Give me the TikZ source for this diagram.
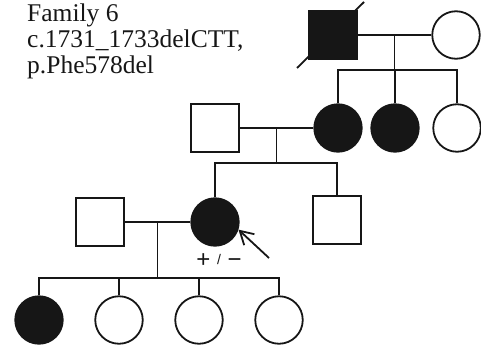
\documentclass[tikz,border=0pt]{standalone}
\usepackage{fontspec}
\setmainfont{Liberation Serif}
\newfontfamily\labelfont{Liberation Sans}
\usetikzlibrary{positioning,calc,arrows.meta}
\definecolor{ink}{HTML}{161616}
\begin{document}
\begin{tikzpicture}[x=1pt,y=-1pt,node distance=80pt,
male/.style={
rectangle,
draw=ink,
line width=1.8pt,
minimum size=47.5pt,
inner sep=0pt
},
female/.style={
circle,
draw=ink,
line width=1.8pt,
minimum size=47.5pt,
inner sep=0pt
},
aff/.style={fill=ink},
line/.style={draw=ink,line width=1.8pt},
]
\useasboundingbox (0,0) rectangle (481,345);
\node (fam) [anchor=north west,align=left,inner sep=0pt,text=ink,font=\fontsize{25.5}{26}\selectfont] at (27,4) {Family 6\\c.1731\_1733delCTT,\\p.Phe578del};
\node (gf) [male,aff] at (333,35) {};
\node (gm) [female] at (456,35) {};
\node (d1) [female,aff] at (338,128) {};
\node (d2) [female,aff] at (395,128) {};
\node (d3) [female] at (457,128) {};
\node (h1) [male] at (215,128) {};
\node (p) [female,aff] at (215,222) {};
\node (s) [male] at (337,220) {};
\node (h2) [male] at (100,222) {};
\node (g1) [female,aff] at (39,320) {};
\node (g2) [female,right of=g1] {};
\node (g3) [female,right of=g2] {};
\node (g4) [female,right of=g3] {};
\node (pm) [anchor=base,inner sep=0pt,text=ink,font=\labelfont\fontsize{24}{24}\selectfont] at (219,267) {+ \raisebox{3pt}{\fontsize{14}{14}\selectfont/} −};
\coordinate (pa) at (269,258);
\coordinate (m1) at ($(gf)!0.5!(gm)$);
\coordinate (s1) at ($(m1)+(0,35)$);
\coordinate (m2) at ($(h1)!0.5!(d1)$);
\coordinate (s2) at ($(m2)+(0,35)$);
\coordinate (m3) at ($(h2)!0.5!(p)$);
\coordinate (s3) at ($(m3)+(0,56)$);
\draw[line] ([shift={(-36,33)}]gf.center) -- ([shift={(31,-33)}]gf.center);
\draw[line] (gf) -- (gm);
\draw[line] (m1) -- (s1);
\draw[line] (d1) |- (s1) -| (d3);
\draw[line] (d2) -- (d2 |- s1);
\draw[line] (h1) -- (d1);
\draw[line] (m2) -- (s2);
\draw[line] (p) |- (s2) -| (s);
\draw[line] (h2) -- (p);
\draw[line] (m3) -- (s3);
\draw[line] (g1) |- (s3) -| (g4);
\draw[line] (g2) -- (g2 |- s3);
\draw[line] (g3) -- (g3 |- s3);
\draw[line,-{Straight Barb[length=13pt,width=15pt]}] (pa) -- (p.-18);
\end{tikzpicture}
\end{document}
